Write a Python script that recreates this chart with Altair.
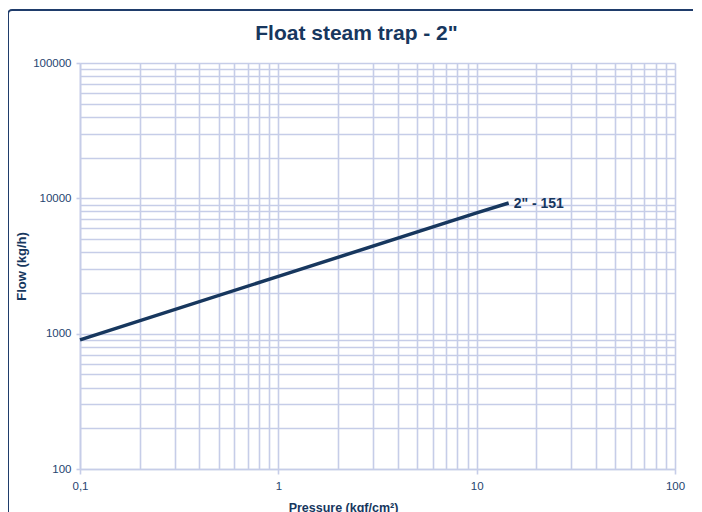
import altair as alt
import pandas as pd

# ---- data ----
pressure = [0.1, 1, 10, 14.5]
flow = [900, 2650, 7800, 9230]
series_label = ['', '', '', '2" - 151']

x_grid = [0.1, 0.2, 0.3, 0.4, 0.5, 0.6, 0.7, 0.8, 0.9,
          1, 2, 3, 4, 5, 6, 7, 8, 9,
          10, 20, 30, 40, 50, 60, 70, 80, 90, 100]
y_grid = [100, 200, 300, 400, 500, 600, 700, 800, 900,
          1000, 2000, 3000, 4000, 5000, 6000, 7000, 8000, 9000,
          10000, 20000, 30000, 40000, 50000, 60000, 70000, 80000, 90000, 100000]

title_text = 'Float steam trap - 2"'
x_title = "Pressure (kgf/cm²)"
y_title = "Flow (kg/h)"

NAVY = "#17375e"
TEXT = "#264570"
GRID = "#c6cde8"
FONT = "Liberation Sans"

major = "abs(log(datum.value)/LN10 - round(log(datum.value)/LN10)) < 0.001"

df = pd.DataFrame({"p": pressure, "f": flow, "lab": series_label})

x_axis = alt.Axis(
    values=x_grid, grid=True, gridColor=GRID, gridWidth=1.6,
    domainColor=GRID, domainWidth=1.6,
    tickColor=GRID, tickWidth=1.6, tickSize=5,
    tickOpacity={"condition": {"test": major, "value": 1}, "value": 0},
    labelExpr=f"{major} ? replace(toString(datum.value), '.', ',') : ''",
    labelOverlap=False, labelFlush=False, labelFont=FONT, labelFontSize=11.5,
    labelColor=TEXT, labelPadding=6,
    title=x_title, titleFont=FONT, titleFontSize=12.5, titleFontWeight="bold",
    titleColor=NAVY, titleX=263, titleY=42, titleBaseline="alphabetic",
)
y_axis = alt.Axis(
    values=y_grid, grid=True, gridColor=GRID, gridWidth=1.6,
    domainColor=GRID, domainWidth=1.6,
    tickColor=GRID, tickWidth=1.6, tickSize=4,
    tickOpacity={"condition": {"test": major, "value": 1}, "value": 0},
    labelExpr=f"{major} ? toString(datum.value) : ''",
    labelOverlap=False, labelFlush=False, labelFont=FONT, labelFontSize=11.5,
    labelColor=TEXT, labelPadding=5,
    title=y_title, titleFont=FONT, titleFontSize=13, titleFontWeight="bold",
    titleColor=NAVY, titleX=-59, titleBaseline="middle",
)

xs = alt.Scale(type="log", domain=[0.1, 100], nice=False)
ys = alt.Scale(type="log", domain=[100, 100000], nice=False)

line = alt.Chart(df).mark_line(color=NAVY, strokeWidth=3.5, clip=False).encode(
    x=alt.X("p:Q", scale=xs, axis=x_axis),
    y=alt.Y("f:Q", scale=ys, axis=y_axis),
)

label = alt.Chart(df).mark_text(
    align="left", baseline="middle", dx=5, dy=1, font=FONT, fontSize=14,
    fontWeight="bold", color=NAVY,
).encode(
    x=alt.X("p:Q", scale=xs),
    y=alt.Y("f:Q", scale=ys),
    text="lab:N",
)

frame = alt.Chart(pd.DataFrame({"a": [0]})).mark_rect(
    fillOpacity=0, stroke="#1f3c6b", strokeWidth=2, cornerRadius=4,
).encode(
    x=alt.value(-72), x2=alt.value(800), y=alt.value(-53), y2=alt.value(700),
)

chart = alt.layer(frame, line, label).properties(
    width=595, height=406,
    title=alt.TitleParams(
        text=title_text, font=FONT, fontSize=21, fontWeight="bold",
        color=NAVY, anchor="middle", frame="group", dx=-21, offset=0, dy=52,
        baseline="alphabetic",
    ),
    autosize=alt.AutoSizeParams(type="none"),
    padding={"left": 72, "top": 55, "right": 18, "bottom": 45},
    background="white",
).configure_view(strokeWidth=0)

chart.save("out.html", embed_options={"renderer": "svg", "actions": False})
